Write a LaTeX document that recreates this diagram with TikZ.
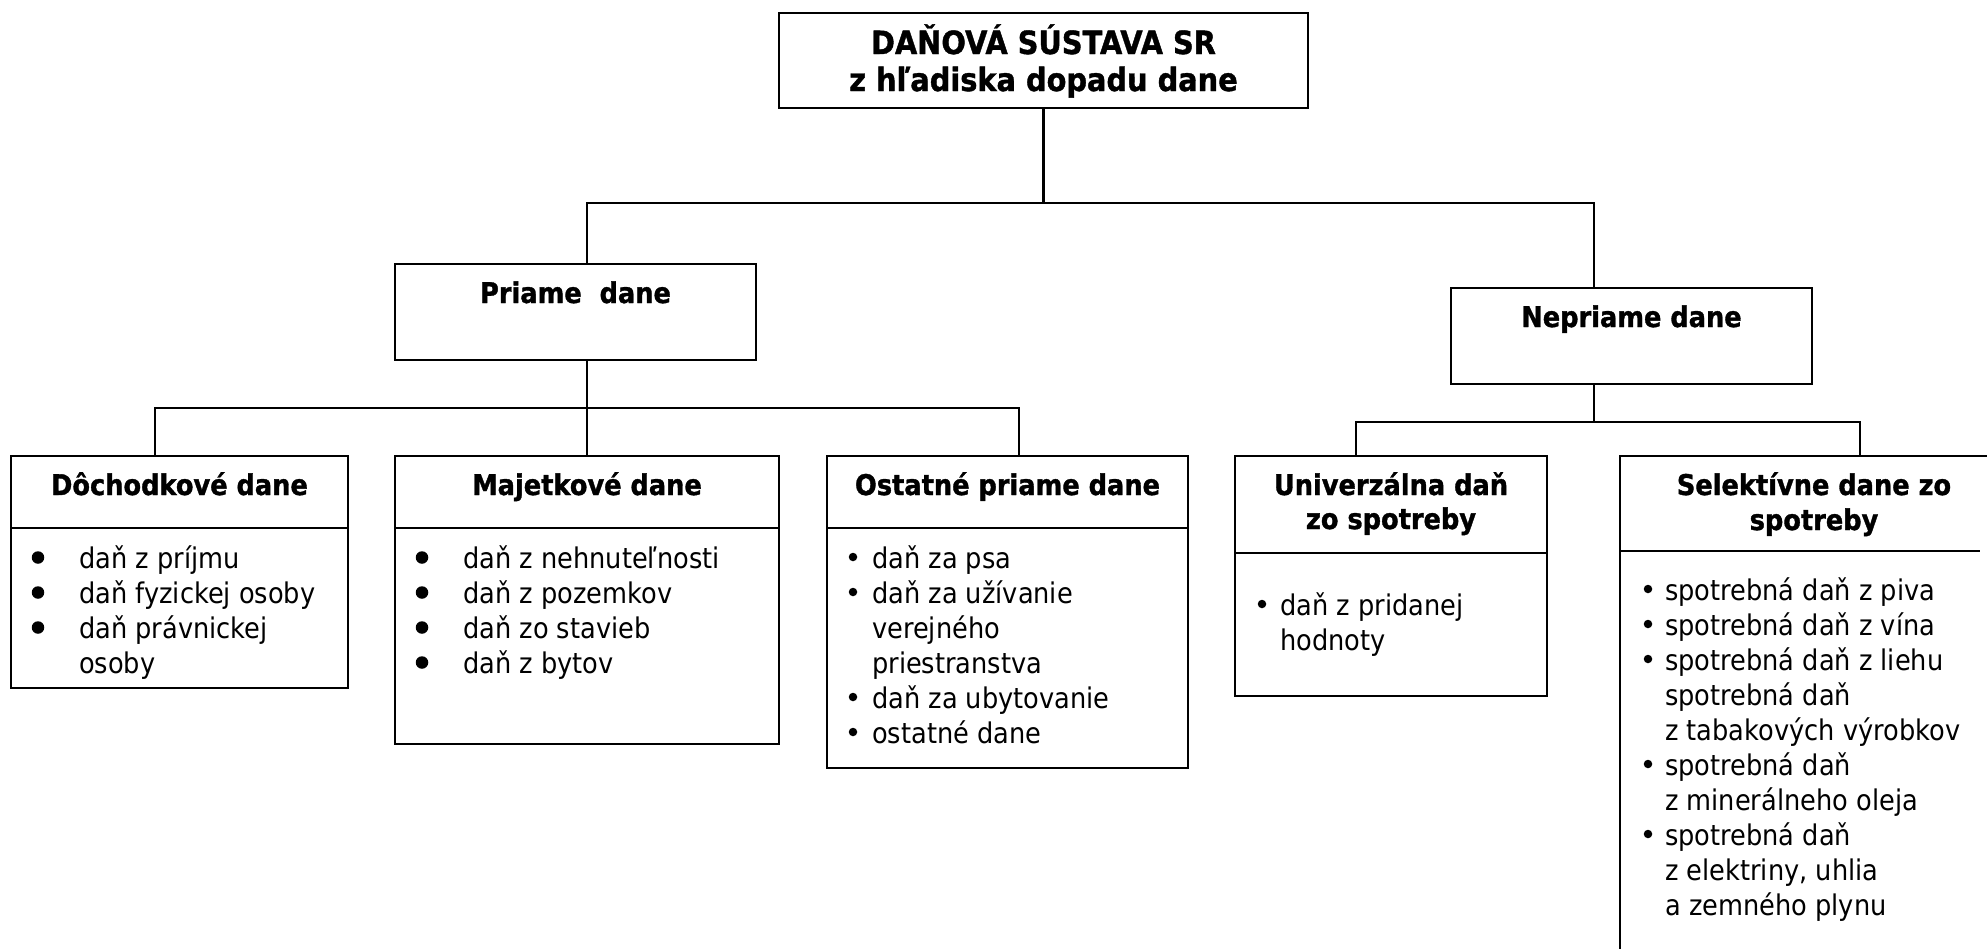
\documentclass[tikz,border=0pt]{standalone}
\usepackage{fontspec}
\setmainfont{DejaVu Sans}[FakeStretch=0.9, BoldFeatures={FakeBold=1.2}]
\begin{document}
\begin{tikzpicture}[x=1pt,y=-1pt,
  frame/.style={draw, line width=2.4pt, inner sep=0pt, outer sep=0pt, anchor=north west},
  link/.style={line width=2.2pt},
  rule/.style={line width=2.2pt},
  head/.style={font=\fontsize{28.5}{35}\selectfont\bfseries, anchor=base, inner sep=0pt},
  bighead/.style={font=\fontsize{32}{39}\selectfont\bfseries, anchor=base, inner sep=0pt},
  itemtxt/.style={font=\fontsize{28.5}{35}\selectfont, anchor=base west, inner sep=0pt},
  dot/.style={circle, fill, draw=none, inner sep=0pt, minimum size=8.5pt},
  bigdot/.style={circle, fill, draw=none, inner sep=0pt, minimum size=12.5pt},
]
\useasboundingbox (0,0) rectangle (1987,948);
\clip (0,0) rectangle (1987,948);

% ---------- boxes ----------
\node[frame, minimum width=529pt, minimum height=95pt]  (top)      at (779,13)   {};
\node[frame, minimum width=361pt, minimum height=96pt]  (priame)   at (395,264)  {};
\node[frame, minimum width=361pt, minimum height=96pt]  (nepriame) at (1451,288) {};
\node[frame, minimum width=337pt, minimum height=232pt] (doch)     at (11,456)   {};
\node[frame, minimum width=384pt, minimum height=288pt] (majet)    at (395,456)  {};
\node[frame, minimum width=361pt, minimum height=312pt] (ostat)    at (827,456)  {};
\node[frame, minimum width=312pt, minimum height=240pt] (univ)     at (1235,456) {};
\node[frame, minimum width=390pt, minimum height=540pt] (selek)    at (1620,456) {};

% ---------- header dividers ----------
\draw[rule] ([yshift=-72pt]doch.north west)  -- ([yshift=-72pt]doch.north east);
\draw[rule] ([yshift=-72pt]majet.north west) -- ([yshift=-72pt]majet.north east);
\draw[rule] ([yshift=-72pt]ostat.north west) -- ([yshift=-72pt]ostat.north east);
\draw[rule] ([yshift=-97pt]univ.north west)  -- ([yshift=-97pt]univ.north east);
\draw[rule] ([yshift=-95pt]selek.north west) -- ++(360,0) coordinate (selek-rule-end);

% ---------- connectors ----------
\draw[link] (top.south) -- ++(0,95) coordinate (hub1);
\draw[link] ([xshift=11.5pt]priame.north) |- (hub1) -| ([xshift=-37.5pt]nepriame.north);
\draw[link] ([xshift=11.5pt]priame.south) -- ++(0,48) coordinate (hub2);
\draw[link] ([xshift=-24.5pt]doch.north) |- (hub2) -| ([xshift=11.5pt]ostat.north);
\draw[link] (hub2) -- (majet.north);
\draw[link] ([xshift=-37.5pt]nepriame.south) -- ++(0,38) coordinate (hub3);
\draw[link] ([xshift=-35pt]univ.north) |- (hub3) -| ([xshift=45pt]selek.north);

% ---------- titles ----------
\node[bighead] (top-l1) at (1043.5,54) {DAŇOVÁ SÚSTAVA SR};
\node[bighead] (top-l2) at (1043.5,91) {z hľadiska dopadu dane};
\node[head] (priame-t)   at (575.5,303)  {Priame\ \ dane};
\node[head] (nepriame-t) at (1631.5,327) {Nepriame dane};
\node[head] (doch-t)  at (179.5,495) {Dôchodkové dane};
\node[head] (majet-t) at (587,495)   {Majetkové dane};
\node[head] (ostat-t) at (1007.5,495) {Ostatné priame dane};
\node[head] (univ-t1) at (1391,495) {Univerzálna daň};
\node[head] (univ-t2) at (1391,529) {zo spotreby};
\node[head] (selek-t1) at (1814,495) {Selektívne dane zo};
\node[head] (selek-t2) at (1814,530) {spotreby};

% ---------- item lists ----------
\foreach \t [count=\i from 0] in {daň z príjmu, daň fyzickej osoby, daň právnickej, osoby}
  \node[itemtxt] (doch-l\i) at (79,{568+35*\i}) {\t};
\foreach \k in {0,1,2}
  \node[bigdot] (doch-b\k) at (38,{557.5+35*\k}) {};

\foreach \t [count=\i from 0] in {daň z nehnuteľnosti, daň z pozemkov, daň zo stavieb, daň z bytov}
  \node[itemtxt] (majet-l\i) at (463,{568+35*\i}) {\t};
\foreach \k in {0,1,2,3}
  \node[bigdot] (majet-b\k) at (422,{557.5+35*\k}) {};

\foreach \t [count=\i from 0] in {daň za psa, daň za užívanie, verejného, priestranstva, daň za ubytovanie, ostatné dane}
  \node[itemtxt] (ostat-l\i) at (872,{568+35*\i}) {\t};
\foreach \k in {0,1,4,5}
  \node[dot] (ostat-b\k) at (853,{557+35*\k}) {};

\foreach \t [count=\i from 0] in {daň z pridanej, hodnoty}
  \node[itemtxt] (univ-l\i) at (1280,{615+35*\i}) {\t};
\node[dot] (univ-b0) at (1262,604) {};

\foreach \t [count=\i from 0] in {spotrebná daň z piva, spotrebná daň z vína, spotrebná daň z liehu,
    spotrebná daň, z tabakových výrobkov, spotrebná daň, z minerálneho oleja,
    spotrebná daň, {z elektriny, uhlia}, a zemného plynu}
  \node[itemtxt] (selek-l\i) at (1665,{600+35*\i}) {\t};
\foreach \k in {0,1,2,5,7}
  \node[dot] (selek-b\k) at (1648,{589+35*\k}) {};
\end{tikzpicture}
\end{document}
